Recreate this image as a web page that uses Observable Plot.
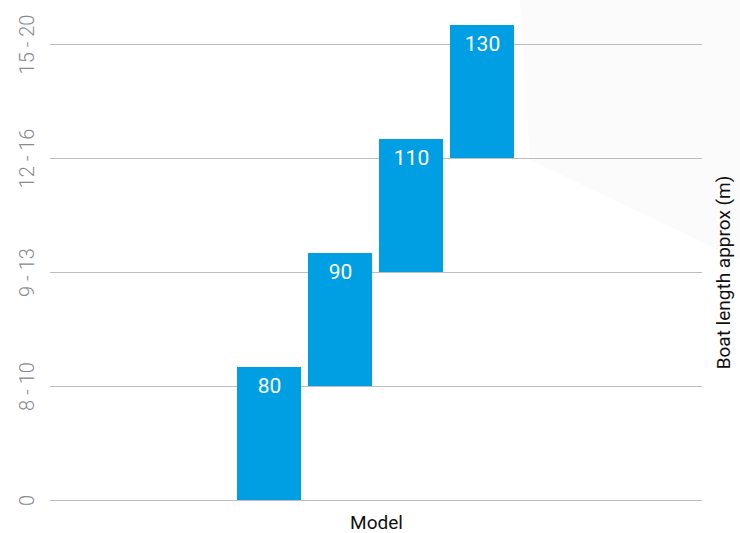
<!DOCTYPE html>
<html>
<head>
<meta charset="utf-8">
<script src="https://cdn.jsdelivr.net/npm/d3@7"></script>
<script src="https://cdn.jsdelivr.net/npm/@observablehq/plot@0.6"></script>
<style>
  html, body { margin: 0; padding: 0; background: #fff; }
  #wrap { position: relative; width: 740px; height: 533px; overflow: hidden; }
  #shade { position: absolute; left: 0; top: 0; width: 740px; height: 533px;
           background: #fbfbfb; clip-path: polygon(520px 0, 740px 0, 740px 260px, 530px 160px); }
  #chart { position: absolute; left: 0; top: 0; }
</style>
</head>
<body>
<div id="wrap"><div id="shade"></div><div id="chart"></div></div>
<script>
// Data
const models = ["80", "90", "110", "130"];
const lengthLabels = ["0", "8 - 10", "9 - 13", "12 - 16", "15 - 20"];
const startLevel = [0, 1, 2, 3];
const endLevel = [1, 2, 3, 4];

const bars = models.map((m, i) => ({model: m, y1: startLevel[i], y2: endLevel[i]}));
const levels = lengthLabels.map((label, i) => ({i, label}));

const condensed = "Roboto, 'Liberation Sans Narrow', sans-serif";

const chart = Plot.plot({
  width: 740,
  height: 533,
  marginLeft: 50,
  marginRight: 38,
  marginTop: 44,
  marginBottom: 33,
  style: {background: "transparent", overflow: "visible"},
  x: {type: "band", domain: models, range: [233.4, 517.9], paddingInner: 0.1, paddingOuter: 0.05, axis: null},
  y: {domain: [0, 4], axis: null},
  marks: [
    Plot.ruleY(levels, {y: "i", stroke: "#bdbdbd", strokeWidth: 1.2}),
    Plot.text(levels, {y: "i", text: "label", frameAnchor: "left", dx: -23, rotate: -90,
      textAnchor: "middle", lineAnchor: "middle",
      fill: "#8a8a8a", fontSize: 20, fontWeight: 300, fontFamily: "Roboto, 'Open Sans', sans-serif"}),
    Plot.rectY(bars, {x: "model", y1: "y1", y2: "y2", fill: "#009fe3", insetTop: -19}),
    Plot.text(bars, {x: "model", y: "y2", text: "model", fill: "white", fontSize: 21, fontWeight: 400,
      fontFamily: condensed, lineAnchor: "middle"}),
    Plot.text(["Model"], {frameAnchor: "bottom", dy: 22, text: d => d, fill: "#111",
      fontSize: 19, fontFamily: condensed, lineAnchor: "middle"}),
    Plot.text(["Boat length approx (m)"], {frameAnchor: "right", dx: 21, rotate: -90, text: d => d,
      textAnchor: "middle", fill: "#111", fontSize: 19, fontFamily: condensed, lineAnchor: "middle"})
  ]
});
document.getElementById("chart").appendChild(chart);
</script>
</body>
</html>
